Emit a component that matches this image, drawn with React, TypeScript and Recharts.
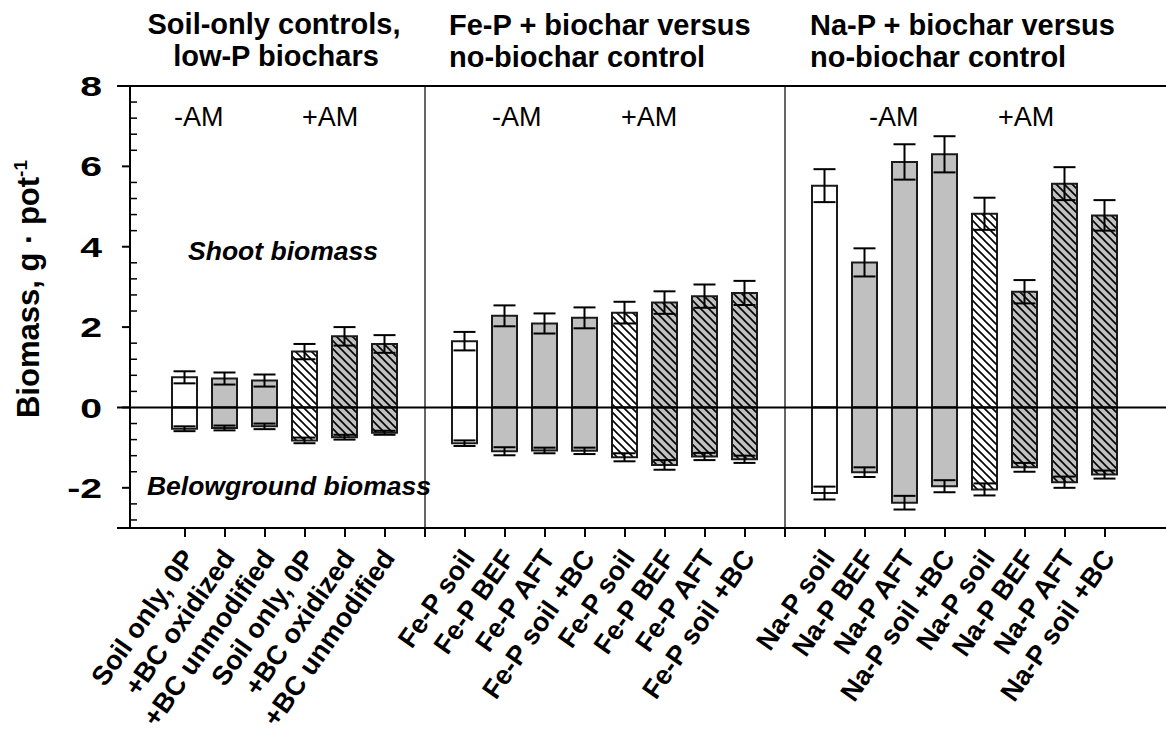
import React from 'react';
import { ComposedChart, Bar, XAxis, YAxis, ReferenceLine, ErrorBar, Cell } from 'recharts';

// ---- data ----
const xLabels: string[] = [
  'Soil only, 0P', '+BC oxidized', '+BC unmodified', 'Soil only, 0P', '+BC oxidized', '+BC unmodified',
  '',
  'Fe-P soil', 'Fe-P BEF', 'Fe-P AFT', 'Fe-P soil +BC', 'Fe-P soil', 'Fe-P BEF', 'Fe-P AFT', 'Fe-P soil +BC',
  '',
  'Na-P soil', 'Na-P BEF', 'Na-P AFT', 'Na-P soil +BC', 'Na-P soil', 'Na-P BEF', 'Na-P AFT', 'Na-P soil +BC',
];

const shootMean: (number | null)[] = [
  0.75, 0.72, 0.67, 1.39, 1.77, 1.58,
  null,
  1.65, 2.28, 2.09, 2.23, 2.36, 2.61, 2.77, 2.85,
  null,
  5.52, 3.61, 6.11, 6.3, 4.82, 2.88, 5.57, 4.78,
];
const shootErr: (number | null)[] = [
  0.15, 0.15, 0.15, 0.19, 0.23, 0.22,
  null,
  0.23, 0.26, 0.25, 0.26, 0.27, 0.28, 0.29, 0.3,
  null,
  0.41, 0.35, 0.44, 0.45, 0.4, 0.29, 0.41, 0.38,
];
const rootMean: (number | null)[] = [
  -0.53, -0.51, -0.47, -0.82, -0.74, -0.63,
  null,
  -0.89, -1.09, -1.07, -1.08, -1.24, -1.43, -1.22, -1.29,
  null,
  -2.13, -1.61, -2.37, -1.96, -2.04, -1.49, -1.86, -1.67,
];
const rootErr: (number | null)[] = [
  0.06, 0.06, 0.07, 0.07, 0.06, 0.05,
  null,
  0.07, 0.1, 0.07, 0.08, 0.1, 0.12, 0.09, 0.09,
  null,
  0.16, 0.12, 0.17, 0.15, 0.15, 0.11, 0.14, 0.1,
];
// w = soil only (-AM), g = biochar (-AM), wh = soil only (+AM), gh = biochar (+AM)
const treatment: (string | null)[] = [
  'w', 'g', 'g', 'wh', 'gh', 'gh',
  null,
  'w', 'g', 'g', 'g', 'wh', 'gh', 'gh', 'gh',
  null,
  'w', 'g', 'g', 'g', 'wh', 'gh', 'gh', 'gh',
];
const separators = [6, 15];

const yMajorTicks = [-2, 0, 2, 4, 6, 8];
const yMinorTicks = [
  -2.8, -2.4, -1.6, -1.2, -0.8, -0.4, 0.4, 0.8, 1.2, 1.6, 2.4, 2.8, 3.2, 3.6,
  4.4, 4.8, 5.2, 5.6, 6.4, 6.8, 7.2, 7.6,
];

const FONT = '"Liberation Sans", Arial, Helvetica, sans-serif';
const GRAY = '#c0c0c0';

const fillFor = (t: string | null) => {
  switch (t) {
    case 'w': return '#ffffff';
    case 'g': return GRAY;
    case 'wh': return 'url(#hatchWhite)';
    case 'gh': return 'url(#hatchGray)';
    default: return 'none';
  }
};

const XTick = (props: any) => {
  const { x, y, payload } = props;
  const label = xLabels[payload.value] || '';
  if (!label) return <g />;
  return (
    <text
      transform={`translate(${x + 11},${y + 21}) rotate(-55)`}
      textAnchor="end"
      fontFamily={FONT}
      fontWeight="bold"
      fontSize={27}
      fill="#000"
    >
      {label}
    </text>
  );
};

const YTick = (props: any) => {
  const { x, y, payload } = props;
  const v = payload.value;
  const isMajor = yMajorTicks.some((m) => Math.abs(m - v) < 1e-6);
  if (isMajor) {
    return (
      <g>
        <line x1={x - 8} x2={x} y1={y} y2={y} stroke="#000" strokeWidth={2} />
        <text
          transform={`translate(${x - 28},${y}) scale(1.4,1)`}
          dy="0.36em"
          textAnchor="end"
          fontFamily={FONT}
          fontWeight="bold"
          fontSize={28}
          fill="#000"
        >
          {v}
        </text>
      </g>
    );
  }
  return <line x1={x} x2={x + 7} y1={y} y2={y} stroke="#000" strokeWidth={1.5} />;
};

export default function App() {
  const data = xLabels
    .map((label, i) => ({
      idx: i,
      label,
      shoot: shootMean[i],
      shootErr: shootErr[i],
      root: rootMean[i],
      rootErr: rootErr[i],
      t: treatment[i],
    }))
    .filter((d) => d.shoot !== null);

  const xTicks = xLabels.map((_, i) => i);
  const yTicks = [...yMajorTicks, ...yMinorTicks].sort((a, b) => a - b);
  const xMin = -1.375;
  const xMax = 24.525;
  const lineLeft = -1.7;

  return (
    <div style={{ position: 'absolute', left: 0, top: 0, width: 1166, height: 736, background: '#fff', overflow: 'hidden' }}>
      <svg width={0} height={0} style={{ position: 'absolute' }}>
        <defs>
          <pattern id="hatchWhite" patternUnits="userSpaceOnUse" width={8} height={8}>
            <rect width={8} height={8} fill="#ffffff" />
            <path d="M0,0 L8,8 M-2,6 L2,10 M6,-2 L10,2" stroke="#000" strokeWidth={1.6} />
          </pattern>
          <pattern id="hatchGray" patternUnits="userSpaceOnUse" width={8} height={8}>
            <rect width={8} height={8} fill={GRAY} />
            <path d="M0,0 L8,8 M-2,6 L2,10 M6,-2 L10,2" stroke="#000" strokeWidth={1.6} />
          </pattern>
        </defs>
      </svg>
      <ComposedChart
        width={1166}
        height={736}
        data={data}
        margin={{ top: 86, right: 0, bottom: 0, left: 0 }}
        stackOffset="sign"
      >
        <XAxis
          type="number"
          dataKey="idx"
          domain={[xMin, xMax]}
          allowDataOverflow
          ticks={xTicks}
          interval={0}
          height={208}
          tickSize={9}
          tickMargin={0}
          axisLine={false}
          tickLine={{ stroke: '#000', strokeWidth: 2 }}
          tick={(p: any) => <XTick {...p} />}
        />
        <YAxis
          type="number"
          domain={[-3, 8]}
          allowDataOverflow
          ticks={yTicks}
          interval={0}
          width={130}
          tickSize={0}
          tickMargin={0}
          tickLine={false}
          axisLine={{ stroke: '#000', strokeWidth: 2 }}
          tick={(p: any) => <YTick {...p} />}
        />
        {separators.map((s) => (
          <ReferenceLine key={`sep${s}`} x={s} stroke="#333" strokeWidth={1.5} ifOverflow="visible" />
        ))}
        <Bar dataKey="shoot" stackId="a" barSize={25} isAnimationActive={false}>
          {data.map((d) => (
            <Cell key={`s${d.idx}`} fill={fillFor(d.t)} stroke="#1a1a1a" strokeWidth={2} />
          ))}
          <ErrorBar dataKey="shootErr" width={11} stroke="#000" strokeWidth={2} direction="y" />
        </Bar>
        <Bar dataKey="root" stackId="a" barSize={25} isAnimationActive={false}>
          {data.map((d) => (
            <Cell key={`r${d.idx}`} fill={fillFor(d.t)} stroke="#1a1a1a" strokeWidth={2} />
          ))}
          <ErrorBar dataKey="rootErr" width={11} stroke="#000" strokeWidth={2} direction="y" />
        </Bar>
        <ReferenceLine segment={[{ x: lineLeft, y: 8 }, { x: xMax, y: 8 }]} stroke="#000" strokeWidth={2} ifOverflow="visible" />
        <ReferenceLine segment={[{ x: lineLeft, y: 0 }, { x: xMax, y: 0 }]} stroke="#000" strokeWidth={2} ifOverflow="visible" />
        <ReferenceLine segment={[{ x: lineLeft, y: -3 }, { x: xMax, y: -3 }]} stroke="#000" strokeWidth={2} ifOverflow="visible" />
      </ComposedChart>
      <svg width={1166} height={736} style={{ position: 'absolute', left: 0, top: 0, pointerEvents: 'none' }}>
        <g fontFamily={FONT} fill="#000">
          <text x={274} y={34} textAnchor="middle" fontSize={29} fontWeight="bold">Soil-only controls,</text>
          <text x={276} y={66} textAnchor="middle" fontSize={29} fontWeight="bold">low-P biochars</text>
          <text x={449} y={35} fontSize={29} fontWeight="bold">Fe-P + biochar versus</text>
          <text x={449} y={67} fontSize={29} fontWeight="bold">no-biochar control</text>
          <text x={810} y={35} fontSize={29} fontWeight="bold">Na-P + biochar versus</text>
          <text x={810} y={67} fontSize={29} fontWeight="bold">no-biochar control</text>

          <text x={174} y={126} fontSize={27}>-AM</text>
          <text x={302} y={126} fontSize={27}>+AM</text>
          <text x={492} y={126} fontSize={27}>-AM</text>
          <text x={621} y={126} fontSize={27}>+AM</text>
          <text x={869} y={126} fontSize={27}>-AM</text>
          <text x={998} y={126} fontSize={27}>+AM</text>

          <text x={283} y={260} textAnchor="middle" fontSize={26.5} fontWeight="bold" fontStyle="italic">Shoot biomass</text>
          <text x={289} y={495} textAnchor="middle" fontSize={26.5} fontWeight="bold" fontStyle="italic">Belowground biomass</text>

          <text transform="translate(39,289) rotate(-90)" textAnchor="middle" fontSize={31} fontWeight="bold">
            Biomass, g · pot<tspan dy={-12} fontSize={19}>-1</tspan>
          </text>
        </g>
      </svg>
    </div>
  );
}
